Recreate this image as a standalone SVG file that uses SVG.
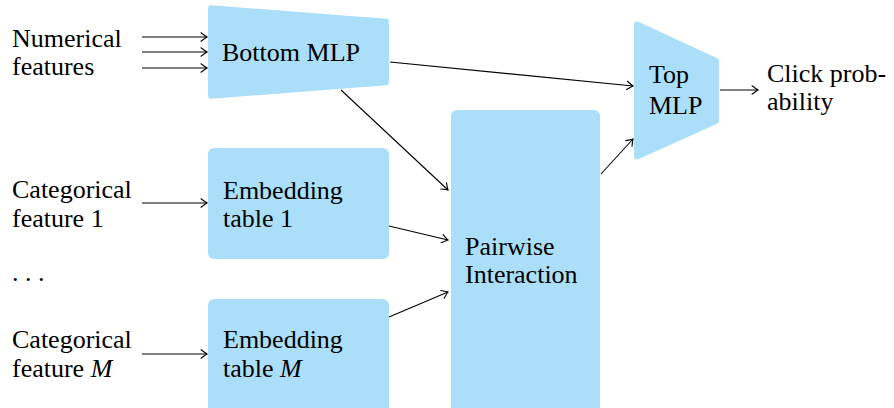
<svg xmlns="http://www.w3.org/2000/svg" width="894" height="408" viewBox="0 0 894 408">
<defs>
<marker id="ah" markerUnits="userSpaceOnUse" markerWidth="12" markerHeight="12" viewBox="-8 -6 10 12" refX="0" refY="0" orient="auto">
<path d="M-6,-4.2 Q-1.5,-0.8 0,0 Q-1.5,0.8 -6,4.2" fill="none" stroke="#000" stroke-width="1.1" stroke-linecap="round"/>
</marker>
</defs>
<rect width="894" height="408" fill="#fff"/>
<g id="numerical">
<text x="12" y="47" font-family="Liberation Serif" font-size="26">Numerical</text>
<text x="12" y="75" font-family="Liberation Serif" font-size="26">features</text>
</g>
<g id="cat1">
<text x="12" y="198" font-family="Liberation Serif" font-size="26">Categorical</text>
<text x="12" y="227" font-family="Liberation Serif" font-size="26">feature 1</text>
</g>
<g id="dots"><text x="12" y="281" font-family="Liberation Serif" font-size="26">. . .</text></g>
<g id="catM">
<text x="12" y="348" font-family="Liberation Serif" font-size="26">Categorical</text>
<text x="12" y="377" font-family="Liberation Serif" font-size="26">feature <tspan font-style="italic">M</tspan></text>
</g>
<g id="bottom-mlp">
<polygon points="211,8.3 386,21.7 386,82.3 211,95.7" fill="#abdff9" stroke="#abdff9" stroke-width="6" stroke-linejoin="round"/>
<text x="222" y="61" font-family="Liberation Serif" font-size="26">Bottom MLP</text>
</g>
<g id="emb1">
<rect x="208" y="148" width="181" height="111" rx="6" fill="#abdff9"/>
<text x="223" y="199" font-family="Liberation Serif" font-size="26">Embedding</text>
<text x="223" y="227" font-family="Liberation Serif" font-size="26">table 1</text>
</g>
<g id="embM">
<rect x="208" y="299" width="181" height="120" rx="6" fill="#abdff9"/>
<text x="223" y="348" font-family="Liberation Serif" font-size="26">Embedding</text>
<text x="223" y="377" font-family="Liberation Serif" font-size="26">table <tspan font-style="italic">M</tspan></text>
</g>
<g id="pairwise">
<rect x="451" y="110" width="149" height="310" rx="6" fill="#abdff9"/>
<text x="465" y="255" font-family="Liberation Serif" font-size="26">Pairwise</text>
<text x="465" y="283" font-family="Liberation Serif" font-size="26">Interaction</text>
</g>
<g id="top-mlp">
<polygon points="637,24.5 716,61 716,121 637,156.5" fill="#abdff9" stroke="#abdff9" stroke-width="6" stroke-linejoin="round"/>
<text x="649" y="83" font-family="Liberation Serif" font-size="26">Top</text>
<text x="649" y="114" font-family="Liberation Serif" font-size="26">MLP</text>
</g>
<g id="click">
<text x="767" y="82" font-family="Liberation Serif" font-size="26">Click prob-</text>
<text x="767" y="110" font-family="Liberation Serif" font-size="26">ability</text>
</g>
<g id="connectors" stroke="#000" stroke-width="1.1" fill="none" marker-end="url(#ah)">
<line x1="142" y1="37" x2="207" y2="37"/>
<line x1="142" y1="52" x2="207" y2="52"/>
<line x1="142" y1="68" x2="207" y2="68"/>
<line x1="142" y1="203" x2="207" y2="203"/>
<line x1="142" y1="354" x2="207" y2="354"/>
<line x1="390" y1="62" x2="633" y2="86"/>
<line x1="341" y1="90" x2="448" y2="190"/>
<line x1="389" y1="226" x2="448" y2="240"/>
<line x1="389" y1="317" x2="448" y2="292"/>
<line x1="601" y1="174" x2="633" y2="139"/>
<line x1="720" y1="90" x2="758" y2="90"/>
</g>
</svg>
